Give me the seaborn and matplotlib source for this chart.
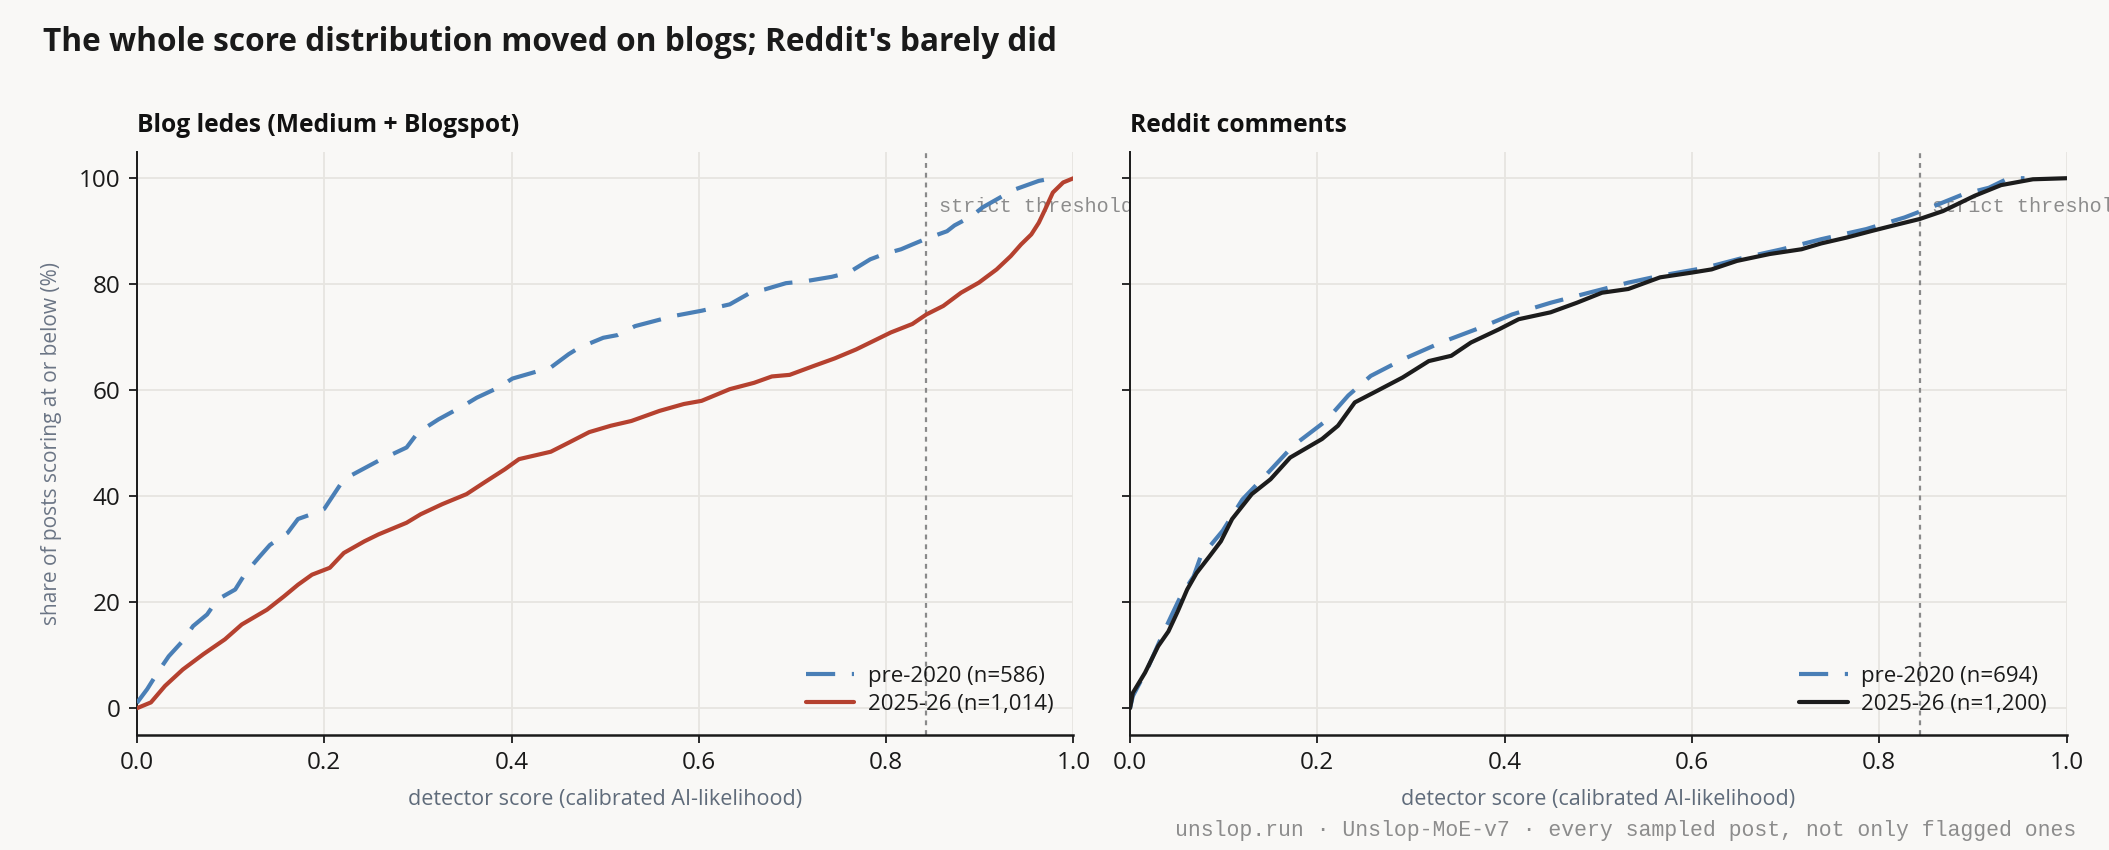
import numpy as np
import pandas as pd
import matplotlib
matplotlib.use("Agg")
import matplotlib.pyplot as plt
import seaborn as sns

# ---------------- data ----------------
blog_pre_score = [0.0, 0.011, 0.022, 0.034, 0.049, 0.06, 0.075, 0.086, 0.105, 0.116, 0.131, 0.142,
                  0.161, 0.172, 0.191, 0.2, 0.221, 0.258, 0.288, 0.30, 0.322, 0.348, 0.363, 0.386,
                  0.401, 0.442, 0.461, 0.472, 0.498, 0.513, 0.532, 0.573, 0.603, 0.633, 0.655, 0.67,
                  0.693, 0.715, 0.742, 0.76, 0.783, 0.798, 0.816, 0.828, 0.843, 0.865, 0.873, 0.891,
                  0.903, 0.925, 0.933, 0.963, 0.978, 0.985]
blog_pre_share = [1.0, 3.6, 6.7, 9.8, 12.7, 15.5, 17.7, 20.5, 22.4, 25.5, 28.6, 30.8,
                  33.1, 35.7, 36.9, 37.6, 43.2, 46.7, 49.2, 52.0, 54.5, 57.0, 58.6, 60.5,
                  62.2, 64.3, 66.8, 68.0, 69.9, 70.4, 72.1, 74.0, 75.0, 76.2, 78.4, 79.0,
                  80.2, 80.6, 81.4, 82.2, 84.7, 85.7, 86.6, 87.5, 88.6, 90.0, 91.1, 92.8,
                  94.5, 96.7, 97.6, 99.5, 100.0, 100.0]

blog_new_score = [0.0, 0.015, 0.03, 0.049, 0.071, 0.094, 0.112, 0.139, 0.157, 0.172, 0.187, 0.206,
                  0.221, 0.243, 0.258, 0.288, 0.303, 0.326, 0.352, 0.371, 0.393, 0.408, 0.442, 0.461,
                  0.483, 0.506, 0.528, 0.558, 0.584, 0.603, 0.633, 0.659, 0.678, 0.697, 0.723, 0.745,
                  0.768, 0.79, 0.805, 0.828, 0.843, 0.861, 0.88, 0.899, 0.918, 0.933, 0.944, 0.955,
                  0.963, 0.97, 0.978, 0.989, 1.0]
blog_new_share = [0.0, 1.1, 4.2, 7.3, 10.2, 13.0, 15.8, 18.6, 21.1, 23.3, 25.2, 26.5,
                  29.3, 31.5, 32.8, 35.0, 36.6, 38.5, 40.4, 42.6, 45.1, 47.0, 48.4, 50.1,
                  52.1, 53.3, 54.2, 56.1, 57.4, 58.0, 60.2, 61.4, 62.6, 62.9, 64.6, 66.0,
                  67.7, 69.6, 70.9, 72.5, 74.3, 75.9, 78.4, 80.3, 82.8, 85.3, 87.5, 89.4,
                  91.6, 94.2, 97.3, 99.2, 100.0]

reddit_pre_score = [0.0, 0.003, 0.02, 0.034, 0.044, 0.054, 0.068, 0.075, 0.099, 0.12, 0.144, 0.174,
                    0.209, 0.233, 0.257, 0.291, 0.332, 0.374, 0.408, 0.449, 0.49, 0.532, 0.566, 0.614,
                    0.655, 0.696, 0.738, 0.786, 0.827, 0.855, 0.89, 0.917, 0.938, 0.955]
reddit_pre_share = [0.0, 2.3, 8.0, 13.6, 17.4, 21.1, 24.9, 28.4, 33.5, 39.4, 43.8, 49.5,
                    54.2, 59.0, 62.7, 65.8, 69.0, 71.8, 74.3, 76.5, 78.4, 80.3, 81.6, 83.1,
                    85.0, 86.6, 88.5, 90.4, 92.6, 94.5, 97.0, 98.2, 100.0, 100.0]

reddit_new_score = [0.0, 0.003, 0.016, 0.03, 0.041, 0.051, 0.061, 0.071, 0.085, 0.097, 0.109, 0.13,
                    0.15, 0.171, 0.205, 0.222, 0.24, 0.264, 0.291, 0.319, 0.343, 0.364, 0.394, 0.415,
                    0.449, 0.477, 0.504, 0.532, 0.566, 0.6, 0.621, 0.648, 0.683, 0.717, 0.738, 0.765,
                    0.793, 0.82, 0.843, 0.868, 0.902, 0.93, 0.964, 1.0]
reddit_new_share = [0.0, 2.9, 6.7, 11.7, 14.5, 18.3, 22.4, 25.5, 28.7, 31.5, 35.7, 40.4,
                    43.2, 47.3, 50.8, 53.3, 57.7, 59.9, 62.4, 65.5, 66.5, 69.0, 71.5, 73.4,
                    74.7, 76.5, 78.4, 79.1, 81.3, 82.2, 82.8, 84.4, 85.7, 86.6, 87.7, 88.8,
                    90.1, 91.3, 92.3, 93.8, 96.7, 98.7, 99.8, 100.0]

panel_titles = ["Blog ledes (Medium + Blogspot)", "Reddit comments"]
periods = ["pre-2020", "2025-26"]
blog_n = [586, 1014]
reddit_n = [694, 1200]
strict_threshold = 0.843
x_ticks = [0.0, 0.2, 0.4, 0.6, 0.8, 1.0]
y_ticks = [0, 20, 40, 60, 80, 100]

# ---------------- style ----------------
BG = "#f9f8f6"
GRID = "#e7e5e0"
BLUE = "#4a7fb6"
RED = "#b5412f"
BLACK = "#1c1c1c"
INK = "#1a1a1a"
MUTED = "#5f6b7a"
GRAYTXT = "#8c8c8c"

sns.set_theme(style="whitegrid")
plt.rcParams["font.family"] = ["Open Sans", "DejaVu Sans"]
plt.rcParams["figure.facecolor"] = BG
plt.rcParams["axes.facecolor"] = BG
plt.rcParams["savefig.facecolor"] = BG

fig, axes = plt.subplots(1, 2, figsize=(21.09, 8.5), dpi=100, sharey=True)
fig.subplots_adjust(left=0.0649, right=0.9799, bottom=0.1356, top=0.8215, wspace=0.0604)

panels = [
    (blog_pre_score, blog_pre_share, blog_new_score, blog_new_share, blog_n, RED),
    (reddit_pre_score, reddit_pre_share, reddit_new_score, reddit_new_share, reddit_n, BLACK),
]

for i, (ax, (ps, py, ns, ny, n, newcol)) in enumerate(zip(axes, panels)):
    pre_df = pd.DataFrame({"score": ps, "share": py})
    new_df = pd.DataFrame({"score": ns, "share": ny})
    ax.axvline(strict_threshold, color="#8a8a8a", lw=1.6, ls=(0, (2.2, 2.2)), zorder=1)
    sns.lineplot(data=pre_df, x="score", y="share", ax=ax, color=BLUE, lw=3.0,
                 linestyle=(0, (7, 4)), sort=False, estimator=None,
                 label=f"{periods[0]} (n={n[0]:,})", zorder=3)
    sns.lineplot(data=new_df, x="score", y="share", ax=ax, color=newcol, lw=3.0,
                 sort=False, estimator=None,
                 label=f"{periods[1]} (n={n[1]:,})", zorder=4)
    ax.text(strict_threshold + 0.013, 94.7, "strict threshold", family="Liberation Mono",
            fontsize=14.5, color=GRAYTXT, va="center", ha="left", clip_on=False, zorder=2)

    ax.set_xlim(0, 1)
    ax.set_ylim(-5, 105)
    ax.set_xticks(x_ticks)
    ax.set_yticks(y_ticks)
    ax.grid(True, color=GRID, lw=1.3)
    for s in ["top", "right"]:
        ax.spines[s].set_visible(False)
    for s in ["left", "bottom"]:
        ax.spines[s].set_visible(True)
        ax.spines[s].set_color(INK)
    ax.spines["left"].set_linewidth(1.4)
    ax.spines["bottom"].set_linewidth(1.8)
    ax.tick_params(axis="both", which="major", bottom=True, left=True, length=6, width=1.3,
                   color=INK, labelsize=17.5, labelcolor=INK, pad=6)
    ax.set_xlabel("detector score (calibrated AI-likelihood)", fontsize=15.5, color=MUTED, labelpad=10)
    ax.set_title(panel_titles[i], loc="left", fontsize=17.7, fontweight="bold", color="#111111", pad=14)
    leg = ax.legend(loc="lower right", frameon=False, fontsize=16, handlelength=2.2,
                    handletextpad=0.6, labelspacing=0.3)
    for t in leg.get_texts():
        t.set_color(INK)

axes[0].set_ylabel("share of posts scoring at or below (%)", fontsize=15, color="#6b7585", labelpad=12)
axes[1].set_ylabel("")
axes[1].tick_params(labelleft=False)

fig.text(0.0204, 0.950, "The whole score distribution moved on blogs; Reddit's barely did",
         fontsize=22.8, fontweight="bold", color=INK, ha="left", va="center")
fig.text(0.9843, 0.0235, "unslop.run \u00b7 Unslop-MoE-v7 \u00b7 every sampled post, not only flagged ones",
         family="Liberation Mono", fontsize=15.5, color=GRAYTXT, ha="right", va="center")

fig.savefig("out.png", dpi=100)
